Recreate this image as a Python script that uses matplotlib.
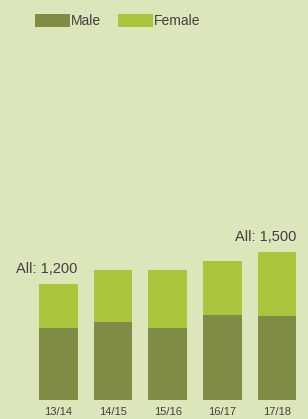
"""
Students by sex, stacked bars
"""
import matplotlib
matplotlib.use("Agg")
import matplotlib.pyplot as plt
import numpy as np

years = ["13/14", "14/15", "15/16", "16/17", "17/18"]
male = [745, 805, 745, 885, 865]
female = [455, 535, 595, 555, 670]
total_labels = {0: "All: 1,200", 4: "All: 1,500"}

BG = "#dbe6bb"
C_MALE = "#7f8c45"
C_FEMALE = "#a8c53c"
TXT = "#404040"

plt.rcParams['font.family'] = ['Liberation Sans', 'DejaVu Sans']

fig = plt.figure(figsize=(3.08, 4.19), dpi=100, facecolor=BG)
ax = fig.add_axes([0, 18.7 / 419, 1, 400.3 / 419])
ax.set_facecolor(BG)

x = np.arange(len(years))
w = 0.705
b1 = ax.bar(x, male, w, color=C_MALE, label="Male")
b2 = ax.bar(x, female, w, bottom=male, color=C_FEMALE, label="Female")

totals = np.array(male) + np.array(female)
for i, s in total_labels.items():
    ax.text(x[i] + w / 2, totals[i] + 80, s, ha="right", va="bottom",
            fontsize=10.5, color=TXT)

ax.set_xlim(-1.071, 4.57)
ax.set_ylim(0, 4131)
ax.set_xticks(x)
ax.set_xticklabels(years, fontsize=8, color=TXT)
ax.tick_params(axis="x", length=0, pad=5)
ax.set_yticks([])
for sp in ax.spines.values():
    sp.set_visible(False)

fig.legend(handles=[b1, b2], loc="upper left", bbox_to_anchor=(35 / 308, 1 - 14 / 419),
           ncol=2, frameon=False, fontsize=10, handlelength=2.5, handleheight=1.1,
           handletextpad=0.1, columnspacing=1.2, borderpad=0, borderaxespad=0,
           labelcolor=TXT)

fig.savefig("out.png", dpi=100, facecolor=BG)
